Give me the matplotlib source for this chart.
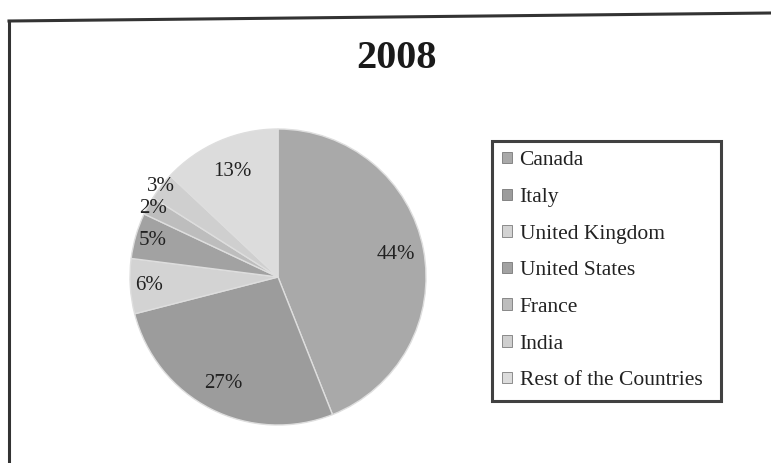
import matplotlib
matplotlib.use("Agg")
import matplotlib.pyplot as plt
from matplotlib.patches import Patch
from matplotlib.lines import Line2D
import numpy as np

plt.rcParams['font.family'] = ['Liberation Serif', 'DejaVu Serif']

title = "2008"
countries = ["Canada", "Italy", "United Kingdom", "United States",
             "France", "India", "Rest of the Countries"]
shares = [44, 27, 6, 5, 2, 3, 13]
colors = ["#a9a9a9", "#9c9c9c", "#d3d3d3", "#a2a2a2",
          "#bdbdbd", "#cfcfcf", "#dcdcdc"]
label_dist = [0.81, 0.81, 0.87, 0.88, 0.96, 1.0, 0.78]

W, H = 771, 463
fig = plt.figure(figsize=(W / 100, H / 100), dpi=100)
fig.patch.set_facecolor("white")

# chart frame (left and top edges)
fig.add_artist(Line2D([9 / W, 9 / W], [0, 1 - 21 / H], color="#333333",
                      lw=2.2, transform=fig.transFigure))
fig.add_artist(Line2D([9 / W, 1], [1 - 21 / H, 1 - 13 / H], color="#333333",
                      lw=2.2, transform=fig.transFigure))

fig.text(397 / W, 1 - 58 / H, title, ha="center", va="center",
         fontsize=29, fontweight="bold", color="#1a1a1a")

cx, cy, R = 278, 277, 148
box = 160
ax = fig.add_axes([(cx - box) / W, (H - cy - box) / H, 2 * box / W, 2 * box / H])

wedges, _ = ax.pie(shares, colors=colors, startangle=90, counterclock=False,
                   radius=R, wedgeprops=dict(edgecolor="#dedede", linewidth=1.0))
ax.set_xlim(-box, box)
ax.set_ylim(-box, box)
ax.set_aspect("equal")
ax.axis("off")

for w, v, d in zip(wedges, shares, label_dist):
    mid = np.deg2rad((w.theta1 + w.theta2) / 2)
    ax.text(d * R * np.cos(mid), d * R * np.sin(mid), f"{v}%",
            ha="center", va="center", fontsize=15, color="#222222")

handles = [Patch(facecolor=c, edgecolor="#666666", linewidth=0.5) for c in colors]
leg = fig.legend(handles, countries, loc="upper left",
                 bbox_to_anchor=(492 / W, 1 - 402 / H, (721 - 492) / W, (402 - 141) / H),
                 mode="expand", fontsize=15.5, frameon=True, fancybox=False,
                 handlelength=0.45, handleheight=0.45, handletextpad=0.35,
                 labelspacing=0.82, borderpad=0.48, borderaxespad=0)
leg.get_frame().set_edgecolor("#111111")
leg.get_frame().set_linewidth(2.2)
for t in leg.get_texts():
    t.set_color("#222222")

fig.savefig("out.png", dpi=100, facecolor="white")
